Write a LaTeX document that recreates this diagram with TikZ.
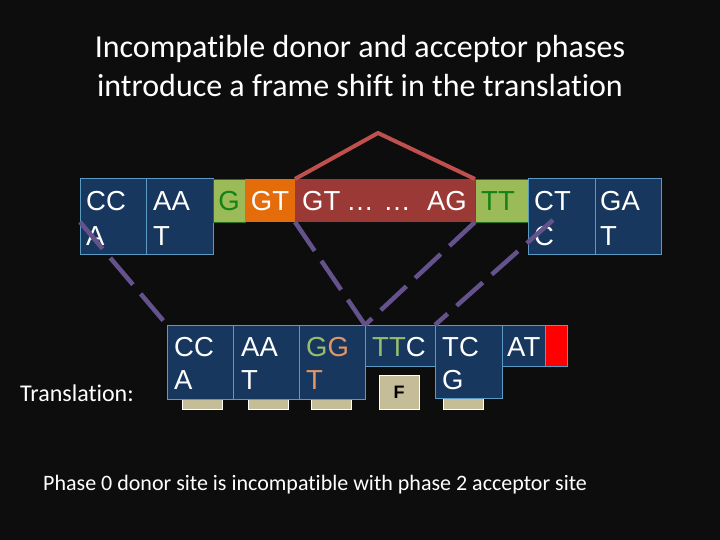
\documentclass[tikz,border=0pt]{standalone}
\usepackage{fontspec}
\newfontfamily\calib[Ligatures=NoCommon]{Carlito}
\newfontfamily\arialf{Liberation Sans}
\definecolor{bg}{RGB}{13,13,13}
\definecolor{dnablue}{RGB}{23,55,94}
\definecolor{boxedge}{RGB}{91,155,195}
\definecolor{exgreen}{RGB}{155,187,89}
\definecolor{exgreenedge}{RGB}{40,110,30}
\definecolor{exgreentext}{RGB}{20,130,20}
\definecolor{donorange}{RGB}{228,108,10}
\definecolor{intronred}{RGB}{155,57,54}
\definecolor{redline}{RGB}{192,80,77}
\definecolor{dashpurple}{RGB}{100,82,140}
\definecolor{tan}{RGB}{196,189,151}
\definecolor{palegreen}{RGB}{150,190,110}
\definecolor{paleorange}{RGB}{225,150,100}
\begin{document}
\begin{tikzpicture}[x=1pt,y=-1pt,
  bluebox/.style={draw=boxedge, line width=1pt, fill=dnablue, inner sep=0pt, outer sep=0pt, anchor=north west},
  greenbox/.style={draw=exgreenedge, line width=0.8pt, fill=exgreen, inner sep=0pt, outer sep=0pt, anchor=north west},
  orangebox/.style={fill=donorange, inner sep=0pt, outer sep=0pt, anchor=north west},
  redbox/.style={fill=intronred, inner sep=0pt, outer sep=0pt, anchor=north west},
  tanbox/.style={draw=white, line width=0.8pt, fill=tan, inner sep=0pt, outer sep=0pt, anchor=north west, minimum width=40pt, minimum height=34pt},
  stopbox/.style={draw=boxedge, line width=1pt, fill=red, inner sep=0pt, outer sep=0pt, anchor=north west},
  txt/.style={text=white, inner sep=0pt, anchor=base west, font=\arialf\fontsize{27.5}{30}\selectfont},
  ctxt/.style={txt, anchor=base},
  dashln/.style={draw=dashpurple, line width=4.5pt, dash pattern=on 35pt off 12pt},
  redln/.style={draw=redline, line width=4pt, line join=miter},
  title/.style={text=white, inner sep=0pt, anchor=base, font=\calib\fontsize{32}{39}\selectfont}
]
\fill[bg] (0,0) rectangle (720,540);
\useasboundingbox (0,0) rectangle (720,540);

% title
\node[title] (title1) at (360,58) {Incompatible donor and acceptor phases};
\node[title] (title2) at (360,97) {introduce a frame shift in the translation};

% ---- top row ----
\node[bluebox, minimum width=66pt, minimum height=75pt] (tCCA) at (80,179) {};
\node[bluebox, minimum width=67pt, minimum height=75pt] (tAAT) at (146,179) {};
\node[greenbox, minimum width=32pt, minimum height=43pt] (tG) at (213,179) {};
\node[orangebox, minimum width=50pt, minimum height=43pt] (tGT) at (245,179) {};
\node[redbox, minimum width=180pt, minimum height=43pt] (tRed) at (295,179) {};
\node[greenbox, minimum width=53pt, minimum height=43pt] (tTT) at (475,179) {};
\node[bluebox, minimum width=67pt, minimum height=75pt] (tCTC) at (528,179) {};
\node[bluebox, minimum width=66pt, minimum height=75pt] (tGAT) at (595,179) {};

\node[txt] (l1a) at (86,211) {CC};
\node[txt] (l1b) at (86,245) {A};
\node[txt] (l2a) at (153,211) {AA};
\node[txt] (l2b) at (153,245) {T};
\node[ctxt, text=exgreentext] (l3) at (229,211) {G};
\node[ctxt] (l4) at (270,211) {GT};
\node[txt] (l5a) at (302,211) {GT};
\node[ctxt] (l5b) at (360,211) {…};
\node[ctxt] (l5c) at (397,211) {…};
\node[txt, anchor=base east] (l5d) at (467,211) {AG};
\node[ctxt, text=exgreentext] (l6) at (498,211) {TT};
\node[txt] (l7a) at (534,211) {CT};
\node[txt] (l7b) at (534,245) {C};
\node[txt] (l8a) at (600,211) {GA};
\node[txt] (l8b) at (600,245) {T};

% ---- bottom row ----
\node[tanbox] (f1) at (182,375) {};
\node[tanbox] (f2) at (248,375) {};
\node[tanbox] (f3) at (311,375) {};
\node[tanbox] (f4) at (379,375) {};
\node[tanbox] (f5) at (443,375) {};
\node[inner sep=0pt, font=\arialf\bfseries\fontsize{18}{20}\selectfont, text=black] (Flab) at (f4.center) {F};

\node[bluebox, minimum width=66pt, minimum height=74pt] (b1) at (167,325) {};
\node[bluebox, minimum width=66pt, minimum height=74pt] (b2) at (233,325) {};
\node[bluebox, minimum width=66pt, minimum height=74pt] (b3) at (299,325) {};
\node[bluebox, minimum width=70pt, minimum height=41pt] (b4) at (365,325) {};
\node[bluebox, minimum width=67pt, minimum height=73pt] (b5) at (435,325) {};
\node[bluebox, minimum width=43pt, minimum height=41pt] (b6) at (502,325) {};
\node[stopbox, minimum width=22pt, minimum height=41pt] (b7) at (545,325) {};

\node[txt] (m1a) at (174,356) {CC};
\node[txt] (m1b) at (174,389) {A};
\node[txt] (m2a) at (241,356) {AA};
\node[txt] (m2b) at (241,389) {T};
\node[txt] (m3a) at (306,356) {\textcolor{palegreen}{G}\textcolor{paleorange}{G}};
\node[txt, text=paleorange] (m3b) at (306,389) {T};
\node[txt] (m4) at (372,356) {\textcolor{palegreen}{TT}C};
\node[txt] (m5a) at (442,356) {TC};
\node[txt] (m5b) at (442,389) {G};
\node[txt] (m6) at (507,356) {AT};

% connectors
\coordinate (p1) at (80,222);
\coordinate (p4) at (553,220);
\draw[dashln] (p1) -- (b1.north west);
\draw[dashln] (tRed.south west) -- (b3.north east);
\draw[dashln] (tTT.south west) -- (b3.north east);
\draw[dashln] (p4) -- (b5.north west);
\coordinate (apex) at (378,133);
\draw[redln] (tRed.north west) -- (apex) -- (tRed.north east);

% labels
\node[text=white, inner sep=0pt, anchor=base west, font=\calib\fontsize{24}{28}\selectfont] (trans) at (20,401) {Translation:};
\node[text=white, inner sep=0pt, anchor=base west, font=\calib\fontsize{22}{26}\selectfont] (note) at (43,490) {Phase 0 donor site is incompatible with phase 2 acceptor site};
\end{tikzpicture}
\end{document}
